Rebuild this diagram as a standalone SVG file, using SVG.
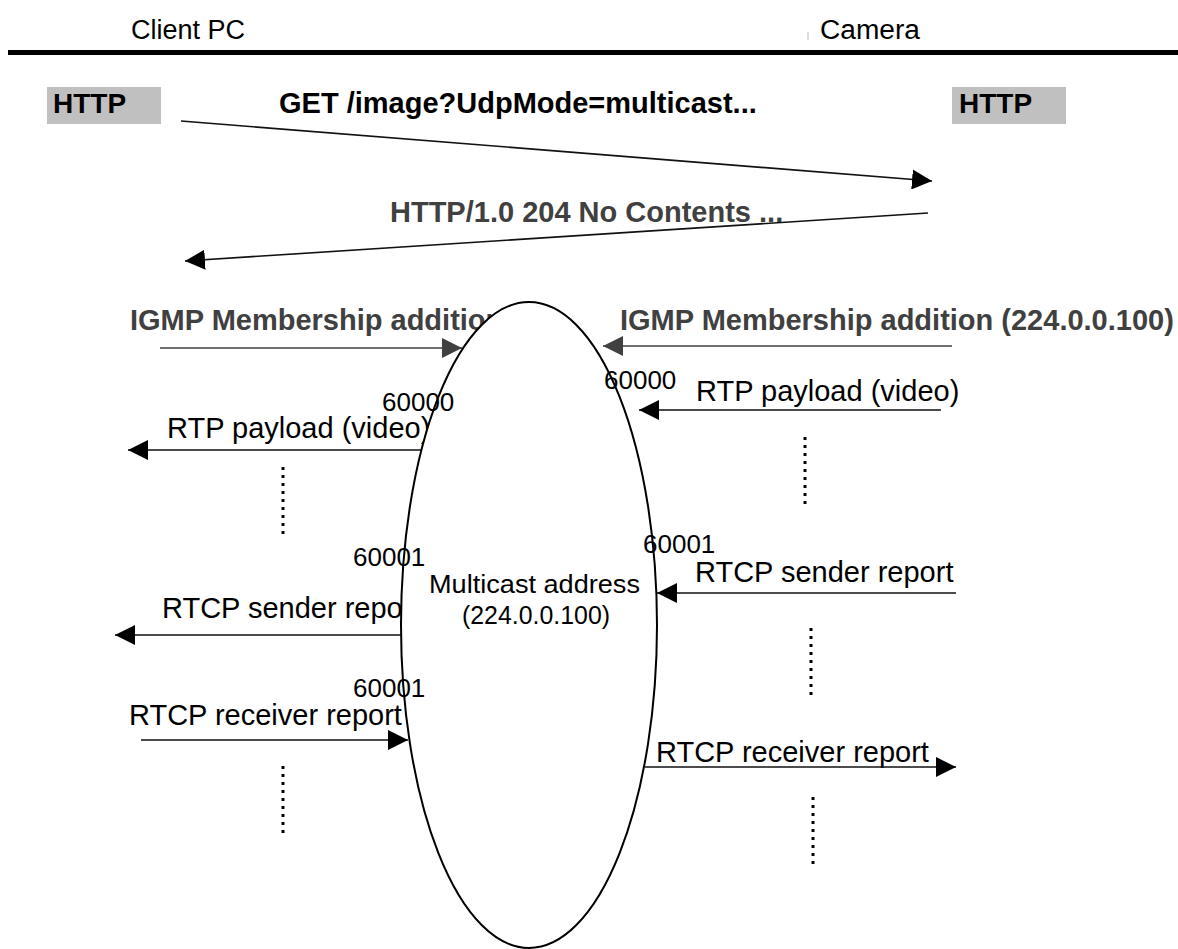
<svg xmlns="http://www.w3.org/2000/svg" width="1178" height="949" viewBox="0 0 1178 949">
<style>
text{font-family:"Liberation Sans",Arial,sans-serif;fill:#000}
.lbl{font-size:29px}
.bold{font-size:29px;font-weight:bold}
.box{font-size:28px;font-weight:bold}
.grey{fill:#404040}
.port{font-size:26px}
.hdr{font-size:27px}
.ln{stroke:#111;stroke-width:1.6;fill:none}
.lng{stroke:#404040;stroke-width:1.6;fill:none}
.dots{stroke:#000;stroke-width:3;stroke-dasharray:3 5;fill:none}
</style>
<defs>
<marker id="ah" viewBox="0 0 20 20" refX="20" refY="10" markerWidth="20" markerHeight="20" markerUnits="userSpaceOnUse" orient="auto">
<path d="M0,0 L20,10 L0,20 Z" fill="#000"/>
</marker>
<marker id="ahg" viewBox="0 0 20 20" refX="20" refY="10" markerWidth="20" markerHeight="20" markerUnits="userSpaceOnUse" orient="auto">
<path d="M0,0 L20,10 L0,20 Z" fill="#404040"/>
</marker>
</defs>
<rect width="1178" height="949" fill="#fff"/>
<g id="header">
<text class="hdr" x="131" y="39">Client PC</text>
<line x1="808" y1="32" x2="808" y2="40" stroke="#bbb" stroke-width="1"/>
<text class="hdr" x="820" y="39" textLength="100" lengthAdjust="spacingAndGlyphs">Camera</text>
<rect x="8" y="50" width="1170" height="5" fill="#000"/>
</g>
<g id="http-client">
<rect x="47" y="87" width="114" height="37" fill="#c0c0c0"/>
<text class="box" x="53" y="113">HTTP</text>
</g>
<g id="http-camera">
<rect x="952" y="87" width="114" height="37" fill="#c0c0c0"/>
<text class="box" x="959" y="113">HTTP</text>
</g>
<g id="labels">
<text class="bold" x="279" y="113">GET /image?UdpMode=multicast...</text>
<text class="bold grey" x="390" y="222">HTTP/1.0 204 No Contents ...</text>
<text class="bold grey" x="130" y="330">IGMP Membership addition</text>
<text class="bold grey" x="620" y="330">IGMP Membership addition (224.0.0.100)</text>
<text class="lbl" x="167" y="438">RTP payload (video)</text>
<text class="lbl" x="696" y="401">RTP payload (video)</text>
<text class="lbl" x="162" y="618">RTCP sender report</text>
<text class="lbl" x="695" y="582">RTCP sender report</text>
<text class="lbl" x="129" y="725">RTCP receiver report</text>
<text class="lbl" x="656" y="762">RTCP receiver report</text>
</g>
<g id="connectors">
<line class="ln" x1="181" y1="121" x2="932" y2="181" marker-end="url(#ah)"/>
<line class="ln" x1="928" y1="213" x2="185" y2="261" marker-end="url(#ah)"/>
<line class="lng" x1="160" y1="348" x2="462" y2="348" marker-end="url(#ahg)"/>
<line class="lng" x1="952" y1="346" x2="603" y2="346" marker-end="url(#ahg)"/>
<line class="ln" x1="422" y1="450" x2="128" y2="450" marker-end="url(#ah)"/>
<line class="ln" x1="941" y1="410" x2="639" y2="410" marker-end="url(#ah)"/>
<line class="ln" x1="405" y1="635" x2="115" y2="635" marker-end="url(#ah)"/>
<line class="ln" x1="956" y1="593" x2="657" y2="593" marker-end="url(#ah)"/>
<line class="ln" x1="141" y1="740" x2="408" y2="740" marker-end="url(#ah)"/>
<line class="ln" x1="645" y1="767" x2="956" y2="767" marker-end="url(#ah)"/>
<line class="dots" x1="283" y1="467" x2="283" y2="537"/>
<line class="dots" x1="805" y1="437" x2="805" y2="507"/>
<line class="dots" x1="811" y1="628" x2="811" y2="698"/>
<line class="dots" x1="283" y1="766" x2="283" y2="836"/>
<line class="dots" x1="813" y1="797" x2="813" y2="867"/>
</g>
<g id="multicast">
<ellipse cx="529" cy="625" rx="128" ry="323" fill="#fff" stroke="#000" stroke-width="2"/>
<text font-size="25" x="429" y="593" textLength="211" lengthAdjust="spacingAndGlyphs">Multicast address</text>
<text font-size="25" x="462" y="624" textLength="148" lengthAdjust="spacingAndGlyphs">(224.0.0.100)</text>
</g>
<g id="ports">
<text class="port" x="382" y="411">60000</text>
<text class="port" x="604" y="389">60000</text>
<text class="port" x="353" y="566">60001</text>
<text class="port" x="643" y="553">60001</text>
<text class="port" x="353" y="697">60001</text>
</g>
</svg>
